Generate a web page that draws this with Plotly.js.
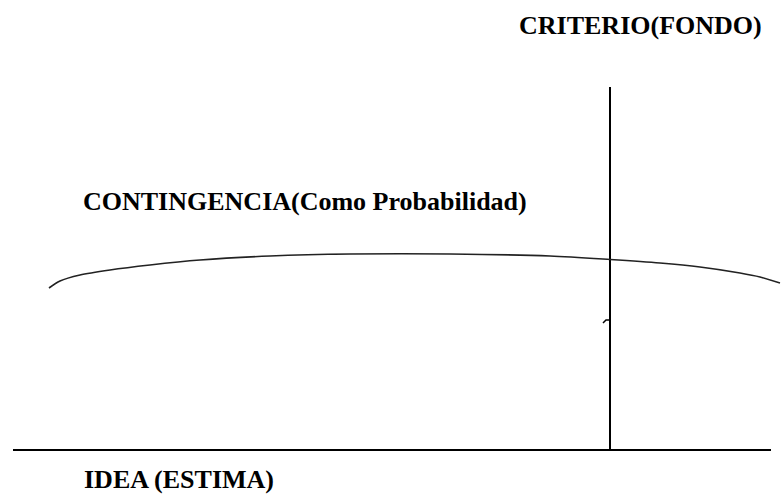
<!DOCTYPE html>
<html>
<head>
<meta charset="utf-8">
<script src="https://cdn.plot.ly/plotly-3.0.1.min.js"></script>
<style>html,body{margin:0;padding:0;background:#fff;}#chart{width:781px;height:494px;}</style>
</head>
<body>
<div id="chart"></div>
<script>
// Diagram values (in the picture's own units)
const baseX = [13, 771];
const baseY = [450, 450];
const criterioX = [610, 610];
const criterioY = [87, 450];
const curveX = [49, 60, 80, 110, 150, 200, 270, 350, 450, 550, 610, 660, 700, 740, 760, 780];
const curveY = [288, 281, 275, 270, 265, 260, 256, 254, 254, 256, 259.5, 263, 267, 273, 277, 283];
const hookX = [603, 606, 611];
const hookY = [323, 320, 320];
const labels = ["CRITERIO(FONDO)", "CONTINGENCIA(Como Probabilidad)", "IDEA (ESTIMA)"];
const labelX = [517, 81, 82];
const labelY = [25, 201, 479];

const lineStyle = (w) => ({color: '#000', width: w});
const traces = [
  {x: baseX, y: baseY, mode: 'lines', line: lineStyle(2), hoverinfo: 'skip'},
  {x: criterioX, y: criterioY, mode: 'lines', line: lineStyle(2), hoverinfo: 'skip'},
  {x: curveX, y: curveY, mode: 'lines', line: Object.assign(lineStyle(1.6), {shape: 'spline', smoothing: 0.8, color: '#222'}), hoverinfo: 'skip'},
  {x: hookX, y: hookY, mode: 'lines', line: lineStyle(1.5), hoverinfo: 'skip'}
];

const annotations = labels.map((t, i) => ({
  text: '<b>' + t + '</b>', x: labelX[i], y: labelY[i], xref: 'x', yref: 'y',
  xanchor: 'left', yanchor: 'middle', showarrow: false,
  font: {family: 'Liberation Serif, Times New Roman, serif', size: 26, color: '#000'}
}));

const layout = {
  width: 781, height: 494,
  margin: {l: 0, r: 0, t: 0, b: 0},
  paper_bgcolor: '#fff', plot_bgcolor: '#fff',
  showlegend: false,
  xaxis: {range: [0, 781], visible: false, fixedrange: true},
  yaxis: {range: [494, 0], visible: false, fixedrange: true},
  annotations: annotations
};
Plotly.newPlot('chart', traces, layout, {staticPlot: true, displayModeBar: false});
</script>
</body>
</html>
